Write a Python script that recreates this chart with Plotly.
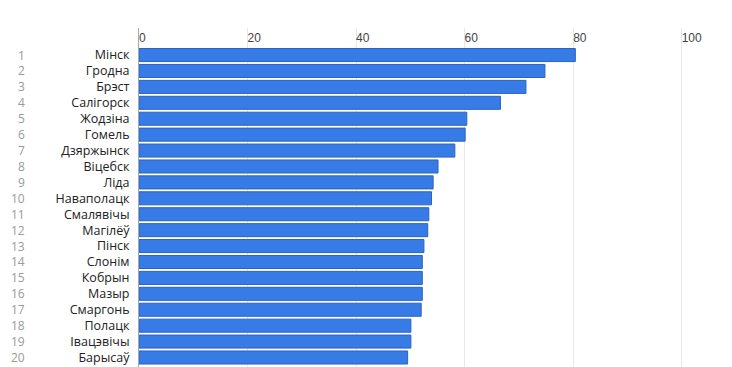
import plotly.graph_objects as go

cities = ["Мінск", "Гродна", "Брэст", "Салігорск", "Жодзіна", "Гомель", "Дзяржынск",
          "Віцебск", "Ліда", "Наваполацк", "Смалявічы", "Магілёў", "Пінск", "Слонім",
          "Кобрын", "Мазыр", "Смаргонь", "Полацк", "Івацэвічы", "Барысаў"]
values = [80.4, 74.8, 71.3, 66.6, 60.4, 60.1, 58.2, 55.1, 54.2, 53.9,
          53.4, 53.2, 52.5, 52.2, 52.2, 52.2, 52.0, 50.1, 50.1, 49.5]
ranks = [str(i) for i in range(1, 21)]
x_ticks = [0, 20, 40, 60, 80, 100]

fig = go.Figure(go.Bar(
    x=values, y=cities, orientation="h",
    marker=dict(color="#377ce6", line=dict(color="#2b62c0", width=1)),
    width=0.82, hoverinfo="skip"))

PX = 5.43
XMAX = 108.9
L = 131  # page body has an 8px margin
W = XMAX * PX
for i, r in enumerate(ranks):
    fig.add_annotation(x=(27 - 139) / W, xref="paper", y=cities[i], yref="y",
                       text=r, showarrow=False, xanchor="right",
                       font=dict(family="Open Sans", size=12, color="#9a9a9a"))

fig.update_layout(
    width=732, height=367,
    margin=dict(l=L, r=max(0, 732 - L - W), t=20, b=0, autoexpand=False),
    paper_bgcolor="white", plot_bgcolor="white", showlegend=False,
    xaxis=dict(range=[0, XMAX], side="top", tickvals=x_ticks,
               ticklabelposition="inside right", showgrid=True,
               gridcolor="#e8e8e8", gridwidth=1, zeroline=False, showline=False,
               tickfont=dict(family="Liberation Sans", size=12, color="#444"),
               automargin=False, fixedrange=True),
    yaxis=dict(range=[20.1, -1.7], showgrid=False, showline=True,
               tickmode="array", tickvals=cities, ticktext=cities,
               linecolor="#aaaaaa", linewidth=1, ticks="", ticklabelstandoff=6,
               tickfont=dict(family="Open Sans", size=12.5, color="#222"),
               automargin=False, fixedrange=True),
)
fig.write_html("out.html")
